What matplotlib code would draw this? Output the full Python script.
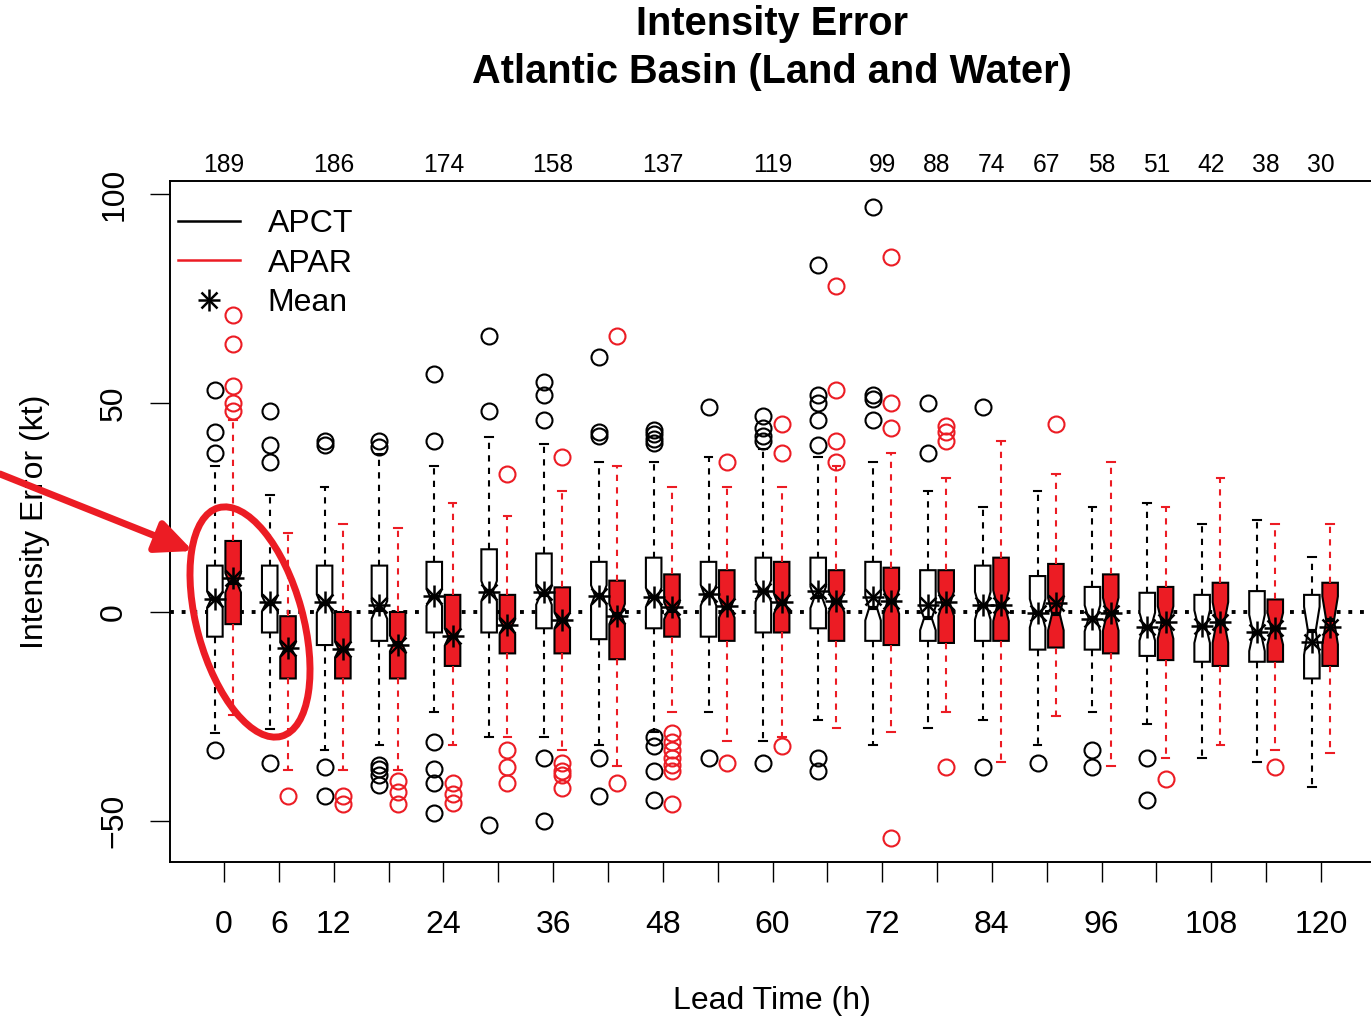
"""Notched boxplots of intensity error by lead time, APCT vs APAR."""

import numpy as np
import matplotlib
matplotlib.use('Agg')
import matplotlib.pyplot as plt
from matplotlib.lines import Line2D
from matplotlib.patches import Ellipse, FancyArrowPatch
from matplotlib.legend_handler import HandlerTuple
from matplotlib.transforms import IdentityTransform

plt.rcParams['font.family'] = ['Liberation Sans', 'DejaVu Sans']

# Lead times (h) and number of cases (unlabelled ones estimated).
lead = [0, 6, 12, 18, 24, 30, 36, 42, 48, 54, 60, 66, 72, 78, 84, 90, 96,
        102, 108, 114, 120]
n_cases = [189, 188, 186, 180, 174, 166, 158, 148, 137, 128, 119, 109, 99,
           88, 74, 67, 58, 51, 42, 38, 30]
xtick_text = ['0', '6', '12', '', '24', '', '36', '', '48', '', '60', '',
              '72', '', '84', '', '96', '', '108', '', '120']
top_lead = [0, 12, 24, 36, 48, 60, 72, 78, 84, 90, 96, 102, 108, 114, 120]

# APCT (black)
apct_lo = [-28.9, -28.0, -32.9, -31.8, -23.9, -29.8, -29.8, -31.8, -28.6,
           -23.9, -30.8, -25.9, -31.8, -27.8, -25.9, -31.8, -23.9, -26.8,
           -34.9, -35.8, -41.8]
apct_q1 = [-5.9, -4.9, -7.9, -6.9, -4.9, -4.9, -3.9, -6.5, -3.9, -5.9, -4.9,
           -3.9, -6.9, -6.9, -6.9, -9.0, -9.0, -10.5, -11.9, -11.9, -15.9]
apct_med = [3.0, 2.0, 2.0, 0.5, 3.5, 5.0, 4.0, 4.0, 3.5, 4.0, 5.0, 3.5, 1.0,
            -1.5, 1.5, -0.3, -1.5, -3.5, -3.5, -5.0, -4.5]
apct_q3 = [11.1, 11.1, 11.1, 11.1, 12.0, 15.0, 14.0, 12.0, 13.0, 12.0, 13.0,
           13.0, 12.0, 10.0, 11.1, 8.6, 6.0, 4.6, 4.1, 5.0, 4.1]
apct_hi = [34.9, 28.0, 29.8, 37.9, 34.9, 41.9, 40.1, 36.0, 36.0, 37.0, 38.9,
           37.0, 36.0, 29.0, 25.0, 29.0, 25.0, 26.0, 21.0, 22.0, 13.1]
apct_mean = [3.1, 2.5, 2.3, 1.7, 3.8, 4.9, 4.9, 3.9, 3.7, 4.2, 5.0, 5.0, 3.7,
             1.7, 1.7, -0.3, -1.7, -3.5, -3.4, -4.7, -7.1]
apct_out = [[53, 43, 38, -33], [48, 40, 36, -36], [41, 40, -37, -44],
            [41, 39.5, -36.5, -37.5, -39, -41.5],
            [57, 41, -31, -37.5, -41, -48], [66, 48, -51],
            [55, 52, 46, -35, -50], [61, 43, 42, -35, -44],
            [43.5, 42.5, 41.5, 40.5, -30, -32, -38, -45], [49, -35],
            [47, 44, 42, 41, -36], [83, 52, 50, 46, 40, -35, -38],
            [97, 52, 51, 46], [50, 38], [49, -37], [-36], [-33, -37],
            [-35, -45], [], [], []]

# APAR (red)
apar_lo = [-24.7, -37.8, -37.8, -37.8, -31.8, -29.8, -32.9, -36.9, -23.9,
           -30.9, -29.8, -27.8, -28.8, -23.9, -35.8, -24.8, -36.9, -34.9,
           -31.8, -32.9, -33.8]
apar_q1 = [-2.9, -15.9, -15.9, -15.9, -12.9, -9.9, -9.9, -11.3, -5.9, -6.9,
           -4.9, -6.9, -7.9, -7.4, -6.9, -8.5, -9.9, -11.5, -12.9, -11.9,
           -12.9]
apar_med = [7.0, -9.0, -9.0, -7.5, -6.0, -3.5, -2.0, -0.5, 0.3, 1.0, 2.0,
            2.5, 2.5, 2.0, 1.5, -0.5, -0.5, -2.5, -2.5, -4.0, -2.0]
apar_q3 = [17.0, -1.0, 0.0, 0.0, 4.1, 4.1, 5.9, 7.5, 9.0, 10.0, 12.0, 10.0,
           10.6, 10.0, 13.0, 11.5, 9.0, 6.0, 7.0, 3.0, 7.0]
apar_hi = [46.0, 19.0, 21.0, 20.0, 26.0, 23.0, 29.0, 34.9, 30.0, 30.0, 30.0,
           34.9, 38.1, 32.0, 41.0, 33.0, 36.0, 25.0, 32.0, 21.0, 21.0]
apar_mean = [8.2, -8.7, -8.9, -7.9, -5.8, -3.1, -1.9, -1.0, 1.1, 1.4, 2.5,
             2.6, 2.6, 2.3, 1.7, 2.1, -0.3, -2.3, -2.3, -3.8, -3.5]
apar_out = [[71, 64, 54, 50, 48], [-44], [-44, -46], [-40.5, -43, -46],
            [-40.8, -43.5, -45.8], [33, -33, -37, -41],
            [37, -36, -38, -39, -42], [66, -41],
            [-29, -31, -33, -35, -36.5, -38, -46], [36, -36], [45, 38, -32],
            [78, 53, 41, 36], [85, 50, 44, -54], [44.5, 43, 41, -37], [],
            [45], [], [-40], [], [-37], []]

RED = '#EC1C24'
FS = 23
STAR_PLUS = 16
STAR_X = 11.3


def make_stats(lo, q1, med, q3, hi, out):
    """Build bxp stats with R style notches."""
    stats = []
    for i in range(len(lead)):
        half = 1.58 * (q3[i] - q1[i]) / np.sqrt(n_cases[i])
        stats.append(dict(whislo=lo[i], q1=q1[i], med=med[i], q3=q3[i],
                          whishi=hi[i], fliers=out[i],
                          cilo=med[i] - half, cihi=med[i] + half))
    return stats


def draw_boxes(ax, stats, pos, col, fill):
    ax.bxp(stats, positions=pos, widths=1.7, shownotches=True,
           patch_artist=True, manage_ticks=False,
           boxprops=dict(facecolor=fill, edgecolor='black', linewidth=1.5),
           whiskerprops=dict(color=col, linestyle=(0, (3, 3)), linewidth=1.5),
           capprops=dict(color=col, linewidth=1.5),
           medianprops=dict(color='black', linewidth=3),
           flierprops=dict(marker='o', markerfacecolor='none',
                           markeredgecolor=col, markersize=11.5,
                           markeredgewidth=1.5))


def draw_means(ax, pos, mean):
    ax.plot(pos, mean, ls='none', marker='+', ms=STAR_PLUS, mew=1.8,
            color='black', zorder=6)
    ax.plot(pos, mean, ls='none', marker='x', ms=STAR_X, mew=1.8,
            color='black', zorder=6)


W, H = 1371, 1019
fig = plt.figure(figsize=(W / 100, H / 100), dpi=100)
ax = fig.add_axes([170 / W, (H - 862) / H, (1374 - 170) / W, (862 - 181) / H])

lead_arr = np.array(lead, dtype=float)
ax.axhline(0, color='black', lw=2.8, ls=(0, (1, 2)), zorder=0)

draw_boxes(ax, make_stats(apct_lo, apct_q1, apct_med, apct_q3, apct_hi,
                          apct_out), lead_arr - 1.0, 'black', 'white')
draw_boxes(ax, make_stats(apar_lo, apar_q1, apar_med, apar_q3, apar_hi,
                          apar_out), lead_arr + 1.0, RED, RED)
draw_means(ax, lead_arr - 1.0, apct_mean)
draw_means(ax, lead_arr + 1.0, apar_mean)

ax.set_xlim(-5.91, 125.8)
ax.set_ylim(-59.8, 103.1)

for s in ax.spines.values():
    s.set_linewidth(1.4)
ax.spines['right'].set_visible(False)

ax.set_xticks(lead)
ax.set_xticklabels(xtick_text, fontsize=FS)
ax.tick_params(axis='x', length=14.4, width=1, pad=20)
ax.set_yticks([-50, 0, 50, 100])
ax.set_yticklabels(['\u221250', '0', '50', '100'], fontsize=FS,
                   rotation=90, va='center')
ax.tick_params(axis='y', length=14.4, width=1, pad=15)

# Number of cases along the top.
sec = ax.secondary_xaxis('top')
sec.set_xticks(top_lead)
sec.set_xticklabels([str(n_cases[lead.index(t)]) for t in top_lead])
sec.tick_params(length=0, pad=3, labelsize=17.7)
sec.spines['top'].set_visible(False)

# Legend.
plus_h = Line2D([], [], ls='none', marker='+', ms=STAR_PLUS, mew=1.8,
                color='black')
x_h = Line2D([], [], ls='none', marker='x', ms=STAR_X, mew=1.8,
             color='black')
ax.legend([Line2D([], [], color='black', lw=1.8),
           Line2D([], [], color=RED, lw=1.8),
           (plus_h, x_h)],
          ['APCT', 'APAR', 'Mean'],
          handler_map={tuple: HandlerTuple(ndivide=1, pad=0)},
          loc='upper left', bbox_to_anchor=(0, 1 - 20 / 681),
          frameon=False, fontsize=FS, borderpad=0.25, borderaxespad=0,
          handlelength=1.94, handletextpad=0.87, labelspacing=0.3)

# Titles and axis labels.
fig.text(772 / W, 1 - 24 / H, 'Intensity Error', ha='center', va='center',
         fontsize=28.6, fontweight='bold')
fig.text(772 / W, 1 - 72 / H, 'Atlantic Basin (Land and Water)',
         ha='center', va='center', fontsize=28.6, fontweight='bold')
fig.text(772 / W, 1 - 1001 / H, 'Lead Time (h)', ha='center', va='center',
         fontsize=FS)
fig.text(35 / W, 1 - 522 / H, 'Intensity Error (kt)', ha='center',
         va='center', rotation=90, fontsize=FS)

# Red annotation: ellipse round the first two lead times and an arrow.
fig.add_artist(Ellipse((250, H - 622), width=106, height=237, angle=15.4,
                       fill=False, edgecolor=RED, lw=5,
                       transform=IdentityTransform(), zorder=10))
fig.add_artist(FancyArrowPatch((0, H - 474), (193, H - 551),
                               arrowstyle='-|>,head_length=1.1,head_width=0.5',
                               mutation_scale=20, color=RED, lw=5,
                               shrinkA=0, shrinkB=0,
                               transform=IdentityTransform(), zorder=10))

fig.savefig('out.png', dpi=100)
